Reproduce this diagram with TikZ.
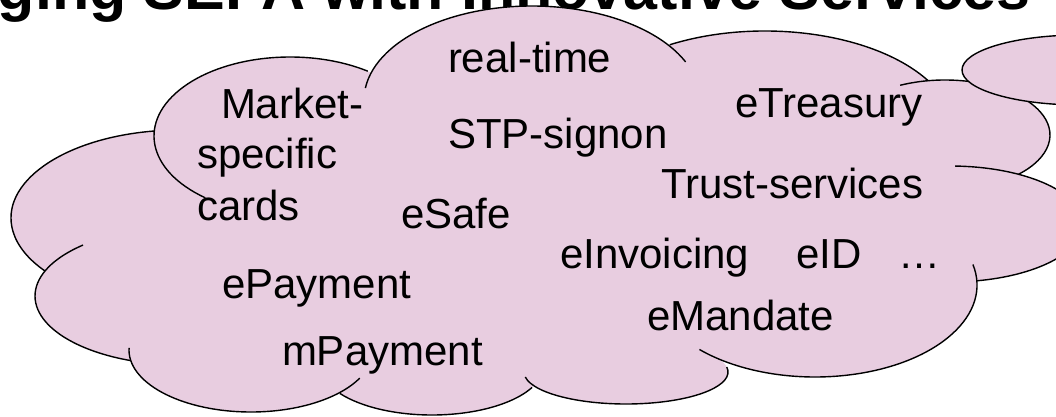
\documentclass[tikz,border=0pt]{standalone}
\usepackage{fontspec}
\setmainfont{Liberation Sans}
\definecolor{cloudpink}{RGB}{232,205,224}
\tikzset{
  lobefill/.style={fill=cloudpink, draw=none},
  lobeline/.style={draw=black, line width=1.4pt},
  word/.style={anchor=base west, inner sep=0pt, outer sep=0pt, font=\fontsize{42}{50}\selectfont},
  headline/.style={anchor=base west, inner sep=0pt, outer sep=0pt, font=\bfseries\fontsize{61}{70}\selectfont},
}
\newcommand{\lobearc}[6]{\draw[lobeline] (#1) ++(#4:#2 and #3) arc[start angle=#4, end angle=#5, x radius=#2, y radius=#3];}
\begin{document}
\begin{tikzpicture}[x=1pt,y=1pt]
\useasboundingbox (0,0) rectangle (1056,416);
% title (cut off at top, lies behind the cloud)
\node[headline] (title) at (-2,406) {ging SEPA with Innovative Services};
% lobe centres
\coordinate (c1) at (290,280);
\coordinate (c2) at (532,316);
\coordinate (c3) at (765,283);
\coordinate (c4) at (945,281);
\coordinate (c5) at (950,192);
\coordinate (c6) at (815,131);
\coordinate (c7) at (626,44);
\coordinate (c8) at (432,51);
\coordinate (c9) at (251,66);
\coordinate (c10) at (182.5,120);
\coordinate (c11) at (179.6,198);
% fill
\fill[lobefill] (c1) ellipse[x radius=136, y radius=79];
\fill[lobefill] (c2) ellipse[x radius=168, y radius=94];
\fill[lobefill] (c3) ellipse[x radius=190, y radius=102];
\fill[lobefill] (c4) ellipse[x radius=105, y radius=55];
\fill[lobefill] (c5) ellipse[x radius=133, y radius=58];
\fill[lobefill] (c6) ellipse[x radius=162, y radius=92];
\fill[lobefill] (c7) ellipse[x radius=102, y radius=32];
\fill[lobefill] (c8) ellipse[x radius=112, y radius=50];
\fill[lobefill] (c9) ellipse[x radius=122, y radius=62];
\fill[lobefill] (c10) ellipse[x radius=147.5, y radius=69];
\fill[lobefill] (c11) ellipse[x radius=168.6, y radius=88];
\fill[lobefill] (165,278) -- (375,336) -- (665,360) -- (915,324) -- (1005,236) -- (962,136)
  -- (725,61) -- (530,41) -- (343,36) -- (142,64) -- (58,148) -- cycle;
% outline arcs
\lobearc{c1}{136}{79}{231.5}{55.1}{}
\lobearc{c2}{168}{94}{172.7}{23.9}{}
\lobearc{c3}{190}{102}{120.1}{31.0}{}
\lobearc{c4}{105}{55}{115.3}{-45.5}{}
\lobearc{c5}{133}{58}{87.8}{-78.6}{}
\lobearc{c6}{162}{92}{12.9}{-135.5}{}
\lobearc{c7}{102}{32}{8.9}{-171}{}
\lobearc{c8}{112}{50}{-26.7}{-145.4}{}
\lobearc{c9}{122}{62}{178}{333}{}
\lobearc{c10}{147.5}{69}{132.4}{249.6}{}
\lobearc{c11}{168.6}{88}{98.7}{217}{}
% small bubble top right
\coordinate (cb) at (1080,346);
\filldraw[fill=cloudpink, lobeline] (cb) ellipse[x radius=118, y radius=35];
% words
\node[word] (realtime) at (448,344) {real-time};
\node[word] (stp) at (448,268) {STP-signon};
\node[word] (treasury) at (735,299) {eTreasury};
\node[word] (trust) at (661,218) {Trust-services};
\node[word] (invoicing) at (560,148) {eInvoicing};
\node[word] (eid) at (796,148) {eID};
\node[word] (dots) at (898,148) {…};
\node[word] (mandate) at (647,86) {eMandate};
\node[word] (market) at (221,298) {Market-};
\node[word] (specific) at (197,248) {specific};
\node[word] (cards) at (197,196) {cards};
\node[word] (safe) at (401,188) {eSafe};
\node[word] (epay) at (222,118) {ePayment};
\node[word] (mpay) at (282,51) {mPayment};
\end{tikzpicture}
\end{document}
